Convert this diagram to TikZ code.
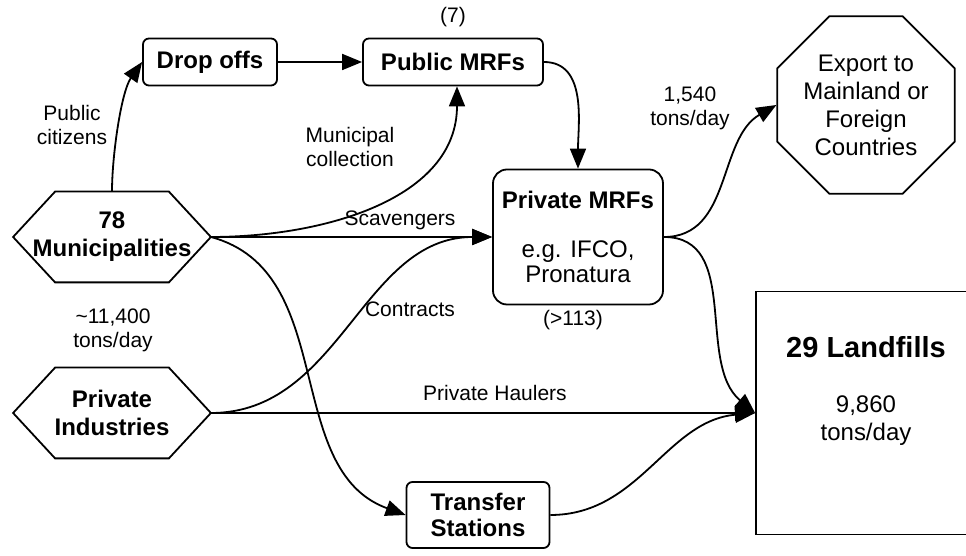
\documentclass[tikz,border=0pt]{standalone}
\usepackage{fontspec}
\setmainfont{Liberation Sans}
\usetikzlibrary{arrows.meta,shapes.geometric}
\begin{document}
\begin{tikzpicture}[x=0.5pt, y=0.5pt,
    box/.style={draw, line width=0.9pt, rounded corners=3pt, align=center, inner sep=0pt,
      font=\bfseries\fontsize{12}{13}\selectfont},
    hexbox/.style={minimum width=98.5pt, minimum height=45pt, align=center, inner sep=0pt,
      font=\bfseries\fontsize{12}{14}\selectfont},
    lbl/.style={align=center, inner sep=0pt, font=\fontsize{10.5}{12}\selectfont},
    flow/.style={line width=0.9pt, -{Triangle[length=10pt,width=8pt]}}]
  \useasboundingbox (0,0) rectangle (966,556);
  \clip (0,0) rectangle (966,556);
  % sources
  \node[hexbox] (muni) at (112,319) {78\\Municipalities};
  \node[hexbox] (indus) at (112,143) {Private\\Industries};
  \draw[line width=0.9pt] (muni.west) -- ([xshift=21pt]muni.north west) -- ([xshift=-21pt]muni.north east)
    -- (muni.east) -- ([xshift=-21pt]muni.south east) -- ([xshift=21pt]muni.south west) -- cycle;
  \draw[line width=0.9pt] (indus.west) -- ([xshift=21pt]indus.north west) -- ([xshift=-21pt]indus.north east)
    -- (indus.east) -- ([xshift=-21pt]indus.south east) -- ([xshift=21pt]indus.south west) -- cycle;
  % facilities
  \node[box, minimum width=67pt, minimum height=23.5pt] (drop) at (210,494) {Drop offs};
  \node[box, minimum width=90pt, minimum height=23.5pt] (pubmrf) at (453,494) {Public MRFs};
  \node[box, rounded corners=7pt, minimum width=85pt, minimum height=67.5pt,
    font=\bfseries\fontsize{12}{12.5}\selectfont] (privmrf) at (578,319)
    {\raisebox{-3pt}{Private MRFs}\\[15pt]{\mdseries e.g. IFCO,}\\{\mdseries Pronatura}};
  \node[box, minimum width=71.5pt, minimum height=33pt] (transfer) at (478,41) {Transfer\\Stations};
  \node[draw, line width=0.9pt, regular polygon, regular polygon sides=8, minimum size=96pt,
    inner sep=0pt, align=center, font=\fontsize{12}{14}\selectfont] (export) at (866,451)
    {Export to\\Mainland or\\Foreign\\Countries};
  \node[draw, line width=0.9pt, minimum width=110pt, minimum height=121.5pt] (landfill) at (866,143) {};
  \node[inner sep=0pt, font=\bfseries\fontsize{14.5}{16}\selectfont] (landname) at (866,209) {29 Landfills};
  \node[lbl, font=\fontsize{12}{14}\selectfont] (landtons) at (866,135) {9,860\\tons/day};
  % labels
  \node[lbl] (seven) at (453,539) {(7)};
  \node[lbl] (over113) at (573,236) {(>113)};
  \node[lbl] (citizens) at (72,431) {Public\\citizens};
  \node[lbl] (municoll) at (350,409) {Municipal\\collection};
  \node[lbl] (scav) at (400,336) {Scavengers};
  \node[lbl] (contracts) at (410,247) {Contracts};
  \node[lbl] (total) at (113,226) {\textasciitilde11,400\\tons/day};
  \node[lbl] (haulers) at (495,163) {Private Haulers};
  \node[lbl] (exported) at (690,448) {1,540\\tons/day};
  % flows
  \draw[flow] (muni.north) to[out=90,in=235,looseness=0.7] (drop.west);
  \draw[flow] (drop) -- (pubmrf);
  \draw[flow] (muni.east) to[out=0,in=-90] ([xshift=2pt]pubmrf.south);
  \draw[flow] (muni.east) -- (privmrf.west);
  \draw[flow] (muni.east) to[out=-15,in=160] (transfer.west);
  \draw[flow] (indus.east) to[out=0,in=180] (privmrf.west);
  \draw[flow] (indus.east) -- (landfill.west);
  \draw[flow] (pubmrf.east) to[out=0,in=90] (privmrf.north);
  \draw[flow] (privmrf.east) to[out=0,in=210] (export.west);
  \draw[flow] (privmrf.east) to[out=0,in=140] (landfill.west);
  \draw[flow] (transfer.east) to[out=0,in=185] (landfill.west);
\end{tikzpicture}
\end{document}
